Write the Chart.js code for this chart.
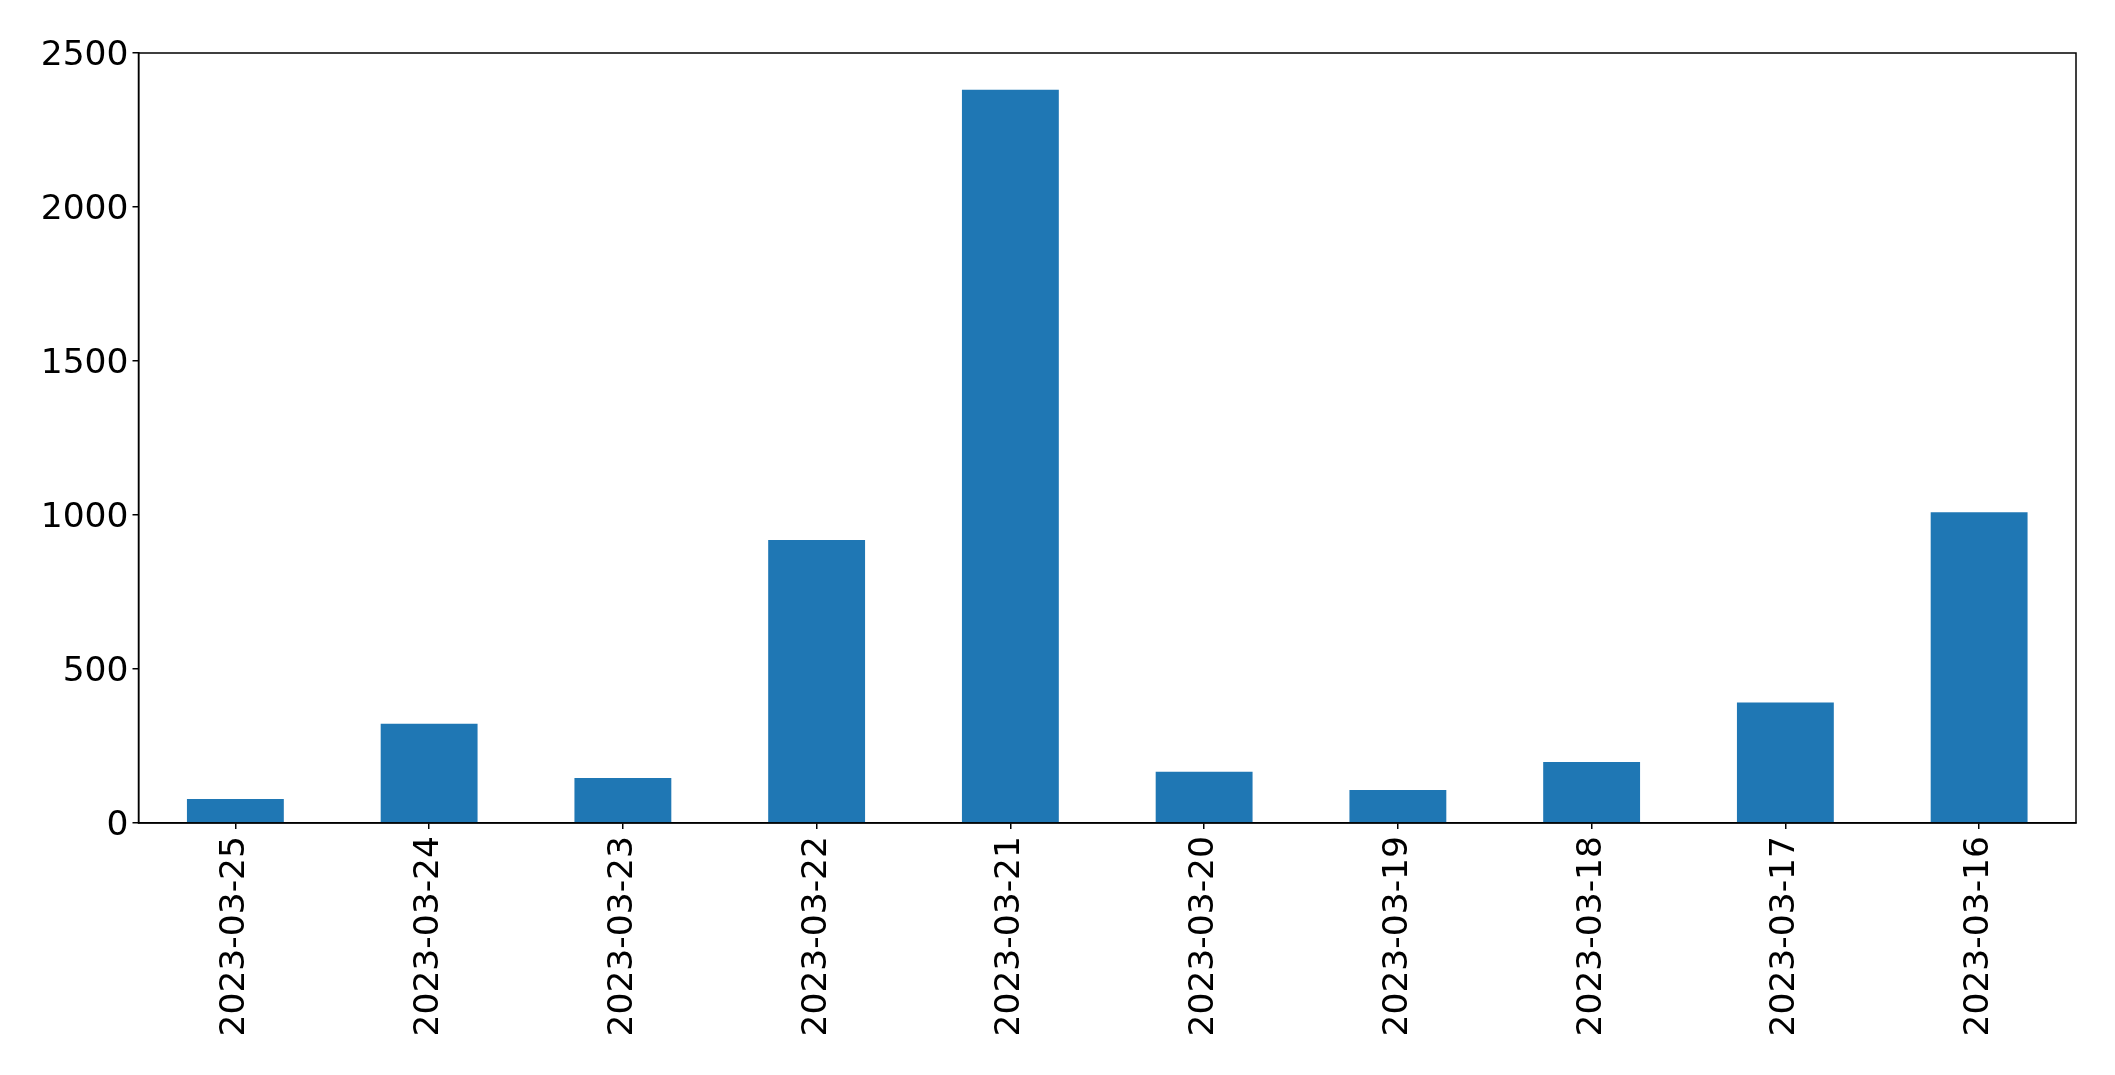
<!DOCTYPE html>
<html>
<head>
<meta charset="utf-8">
<script src="https://cdn.jsdelivr.net/npm/chart.js@4.4.0/dist/chart.umd.min.js"></script>
<style>
  html, body { margin: 0; padding: 0; background: #ffffff; }
  #wrap { width: 2115px; height: 1075px; position: relative; }
</style>
</head>
<body>
<div id="wrap"><canvas id="c" width="2115" height="1075"></canvas></div>
<script>
const categories = ["2023-03-25", "2023-03-24", "2023-03-23", "2023-03-22", "2023-03-21",
                    "2023-03-20", "2023-03-19", "2023-03-18", "2023-03-17", "2023-03-16"];
const values = [78, 322, 146, 919, 2381, 166, 107, 198, 391, 1009];
const yTicks = [0, 500, 1000, 1500, 2000, 2500];

const frame = {
  id: 'frame',
  afterDraw(chart) {
    const a = chart.chartArea, ctx = chart.ctx;
    ctx.save();
    ctx.strokeStyle = '#000';
    ctx.lineWidth = 1.5;
    ctx.strokeRect(a.left, a.top, a.right - a.left, a.bottom - a.top);
    ctx.restore();
  }
};

const font = { family: 'DejaVu Sans', size: 34.5 };

new Chart(document.getElementById('c'), {
  type: 'bar',
  data: {
    labels: categories,
    datasets: [{
      data: values,
      backgroundColor: '#1f77b4',
      borderWidth: 0,
      barPercentage: 0.5,
      categoryPercentage: 1.0
    }]
  },
  options: {
    responsive: false,
    animation: false,
    devicePixelRatio: 1,
    layout: { padding: { top: 53, right: 39, left: 0, bottom: 0 } },
    plugins: { legend: { display: false }, tooltip: { enabled: false } },
    scales: {
      x: {
        offset: true,
        grid: { display: true, offset: false, drawOnChartArea: false, drawTicks: true, tickLength: 6, color: '#000', lineWidth: 1.5 },
        border: { display: true, color: '#000', width: 1.5 },
        ticks: { color: '#000', font: font, maxRotation: 90, minRotation: 90, autoSkip: false, padding: 7 },
        afterFit(scale) { scale.height = 1075 - 823; }
      },
      y: {
        min: 0, max: 2500,
        afterBuildTicks(scale) { scale.ticks = yTicks.map(v => ({ value: v })); },
        grid: { display: true, drawOnChartArea: false, drawTicks: true, tickLength: 6, color: '#000', lineWidth: 1.5 },
        border: { display: true, color: '#000', width: 1.5 },
        ticks: { color: '#000', font: font, padding: 4, labelOffset: 3, callback: (v) => String(v) },
        afterFit(scale) { scale.width = 138.5; }
      }
    }
  },
  plugins: [frame]
});
</script>
</body>
</html>
